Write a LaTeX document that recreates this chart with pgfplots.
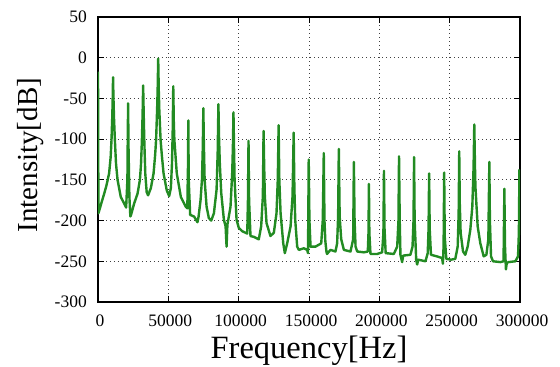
\documentclass[border=0pt]{standalone}
\usepackage{fontspec}
\setmainfont{Liberation Serif}
\usepackage{pgfplots}
\pgfplotsset{compat=1.18}
\definecolor{fgreen}{RGB}{34,139,34}
\begin{document}
\begin{tikzpicture}
\begin{axis}[
  scale only axis, width=422bp, height=285bp,
  xmin=0, xmax=300000, ymin=-300, ymax=50,
  xtick={0,50000,100000,150000,200000,250000,300000},
  ytick={-300,-250,-200,-150,-100,-50,0,50},
  scaled x ticks=false,
  /pgf/number format/assume math mode=true,
  xticklabel style={/pgf/number format/fixed, /pgf/number format/1000 sep={}, anchor=north, inner sep=0pt, yshift=-13bp, xshift=2bp},
  yticklabel style={anchor=east, inner sep=0pt, xshift=-11bp},
  tick label style={font=\fontsize{17.5bp}{20bp}\selectfont},
  tick align=inside, major tick length=6bp,
  tick style={black, line width=1bp},
  axis line style={black, line width=1.6bp},
  grid=major,
  major grid style={black!75, line width=0.9bp, dash pattern=on 1bp off 3bp},
  xlabel={Frequency[Hz]}, ylabel={Intensity[dB]},
  xlabel style={font=\fontsize{32.5bp}{36bp}\selectfont, at={(axis description cs:0.5,-0.199)}, anchor=base, inner sep=0pt},
  ylabel style={font=\fontsize{29bp}{33bp}\selectfont, at={(axis description cs:-0.1438,0.515)}, anchor=base, inner sep=0pt},
  clip=true,
]
\coordinate (bl) at (rel axis cs:0,0);
\addplot[fgreen, line width=2.4bp, line join=round, mark=none] coordinates {
(0,-17) (300,-191) (1500,-184) (3000,-175) (4400,-167) (6000,-157) (7900,-142) (9000,-122) (9600,-101) (10100,-75) (10400,-55) (10700,-24)
(11000,-50) (11400,-75) (12000,-101) (12800,-130) (13900,-150) (16200,-171) (18600,-179) (20000,-184) (20900,-150) (21100,-110) (21400,-56)
(21700,-110) (22300,-170) (23000,-195) (23500,-193) (25700,-179) (28100,-167) (29800,-150) (30600,-130) (31200,-102) (31700,-70) (32100,-34)
(32500,-70) (32900,-101) (33600,-142) (34600,-165) (35600,-169) (37600,-160) (39500,-142) (40600,-120) (41300,-101) (42000,-65) (42400,-40) (42800,-1)
(43200,-40) (43600,-65) (44500,-101) (45400,-120) (46600,-142) (48900,-163) (50600,-170) (51800,-160) (52600,-130) (53100,-90) (53500,-35)
(53900,-80) (54300,-101) (56000,-142) (58900,-171) (62400,-183) (63500,-185) (64000,-130) (64200,-77)
(64500,-150) (65500,-193) (68300,-195) (70700,-202) (71500,-195) (72900,-175) (73900,-150) (74500,-110) (74900,-62)
(75200,-100) (75800,-150) (77200,-183) (78800,-197) (80500,-200) (82400,-191) (84300,-162) (85100,-115) (85600,-57)
(86000,-95) (86600,-130) (87600,-166) (89500,-199) (90700,-207) (91400,-232) (92000,-205) (94200,-183) (95400,-142) (95900,-110) (96300,-67)
(96700,-110) (97100,-150) (98500,-199) (100100,-209) (102500,-213) (106100,-216) (106600,-175) (107000,-102)
(107400,-175) (108400,-219) (110800,-220) (114300,-223) (116000,-207) (117200,-170) (117700,-90)
(118100,-130) (118600,-170) (119800,-203) (122600,-219) (125000,-215) (126900,-191) (127800,-150) (128400,-83)
(128900,-150) (129800,-191) (131700,-228) (132800,-240) (134500,-228) (136900,-207) (138300,-170) (139100,-92)
(139600,-160) (140200,-199) (141600,-232) (142800,-236) (146300,-234) (148700,-236) (149300,-240) (149800,-125)
(150300,-200) (151100,-232) (154600,-232) (158700,-228) (159800,-199) (160500,-117)
(161000,-200) (161600,-225) (162400,-238) (162800,-241) (165300,-236) (168800,-238) (170000,-228) (170700,-195) (171200,-112)
(171800,-195) (172900,-223) (174800,-236) (179500,-238) (181400,-223) (181900,-128)
(182400,-200) (183100,-232) (184300,-238) (189000,-239) (191800,-238) (192300,-215) (192600,-155)
(192900,-215) (193700,-241) (198500,-241) (202000,-239) (202900,-215) (203300,-139)
(203700,-210) (204500,-240) (210300,-241) (212700,-232) (213600,-200) (214000,-121)
(214500,-200) (215000,-242) (216200,-251) (217000,-243) (222100,-242) (223600,-232) (224300,-200) (224700,-122)
(225100,-200) (226200,-248) (226900,-254) (227600,-248) (232800,-250) (234400,-240) (235000,-210) (235400,-142)
(235800,-210) (236700,-242) (241000,-244) (244600,-246) (245200,-253) (245700,-230) (246100,-141)
(246500,-220) (247600,-247) (251000,-248) (254000,-247) (255700,-232) (256400,-190) (256800,-115)
(257200,-180) (257800,-215) (259500,-238) (261100,-242) (262800,-232) (264700,-211) (266100,-183) (267000,-134) (267500,-82)
(268000,-134) (268300,-158) (269900,-207) (271800,-228) (274200,-244) (276100,-242) (277500,-223) (278200,-128)
(278600,-200) (279400,-244) (280800,-250) (286000,-251) (288300,-250) (288900,-161)
(289300,-230) (290000,-260) (290600,-252) (291900,-251) (296700,-250) (298600,-244) (299200,-215) (299600,-137)
};
\end{axis}
\pgfresetboundingbox
\path (bl) ++(-98bp,-65bp) rectangle ++(560bp,367bp);
\end{tikzpicture}
\end{document}
